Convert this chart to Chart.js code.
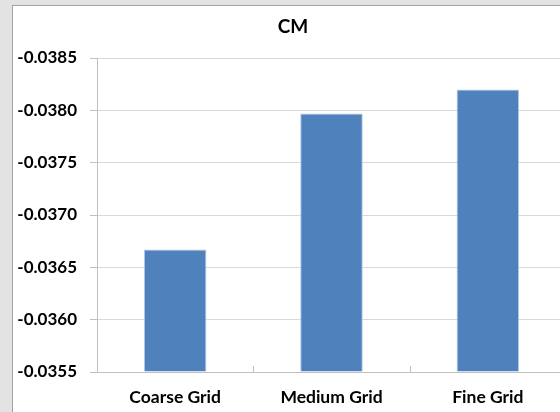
<!DOCTYPE html>
<html>
<head>
<meta charset="utf-8">
<script src="https://cdn.jsdelivr.net/npm/chart.js@4"></script>
<style>
  html, body { margin: 0; padding: 0; width: 560px; height: 412px; overflow: hidden; background: #e3e3e3; }
  #panel { position: absolute; left: 12px; top: 5px; width: 620px; height: 440px; background: #ffffff; border-left: 1px solid #a3a3a3; border-top: 1px solid #a3a3a3; }
  #wrap { position: absolute; left: 0; top: 0; width: 586px; height: 412px; }
</style>
</head>
<body>
<div id="panel"></div>
<div id="wrap"><canvas id="chart" width="586" height="412"></canvas></div>
<script>
const categories = ['Coarse Grid', 'Medium Grid', 'Fine Grid'];
const cmValues = [-0.03667, -0.03797, -0.03820];
const yTicks = [-0.0385, -0.0380, -0.0375, -0.0370, -0.0365, -0.0360, -0.0355];

const FONT = 'Lato, "Open Sans", sans-serif';

// Short inward tick marks on the category axis, between categories
const innerTicks = {
  id: 'innerTicks',
  afterDatasetsDraw(chart) {
    const x = chart.scales.x;
    const area = chart.chartArea;
    const n = categories.length;
    const ctx = chart.ctx;
    ctx.save();
    ctx.strokeStyle = '#bfbfbf';
    ctx.lineWidth = 1;
    for (let i = 1; i < n; i++) {
      const px = Math.round(x.left + i * (x.width / n)) + 0.5;
      ctx.beginPath();
      ctx.moveTo(px, area.bottom - 6);
      ctx.lineTo(px, area.bottom);
      ctx.stroke();
    }
    ctx.restore();
  }
};

// Centre the title across the whole chart panel rather than the padded box
const titleSpan = {
  id: 'titleSpan',
  afterLayout(chart) {
    if (chart.titleBlock) {
      chart.titleBlock.left = 0;
      chart.titleBlock.right = chart.width;
      chart.titleBlock.width = chart.width;
    }
  }
};

new Chart(document.getElementById('chart'), {
  type: 'bar',
  data: {
    labels: categories,
    datasets: [{
      label: 'CM',
      data: cmValues,
      base: yTicks[yTicks.length - 1],
      backgroundColor: '#4f81bd',
      borderColor: '#b3c8e3',
      borderWidth: 1,
      barPercentage: 0.4,
      categoryPercentage: 1.0
    }]
  },
  options: {
    responsive: false,
    animation: false,
    layout: { padding: { left: 0, right: 20, top: 0, bottom: 0 } },
    plugins: {
      legend: { display: false },
      tooltip: { enabled: false },
      title: {
        display: true,
        text: 'CM',
        color: '#000000',
        font: { family: FONT, size: 19, weight: 'bold', lineHeight: 1.2 },
        padding: { top: 15.6, bottom: 19.6 }
      }
    },
    scales: {
      x: {
        grid: { display: true, drawOnChartArea: false, drawTicks: false, color: '#bfbfbf' },
        border: { display: true, color: '#bfbfbf' },
        ticks: {
          color: '#000000',
          font: { family: FONT, size: 17.5, weight: 'bold', lineHeight: 1.2 },
          padding: 14.5,
          maxRotation: 0
        },
        afterFit(scale) { scale.height = 40; }
      },
      y: {
        reverse: true,
        min: yTicks[0],
        max: yTicks[yTicks.length - 1],
        afterBuildTicks(scale) { scale.ticks = yTicks.map(v => ({ value: v })); },
        grid: { color: '#d9d9d9', tickLength: 7, tickColor: '#bfbfbf' },
        border: { display: true, color: '#bfbfbf' },
        ticks: {
          color: '#000000',
          font: { family: FONT, size: 17, weight: 'bold' },
          padding: 13,
          callback: v => Number(v).toFixed(4)
        },
        afterFit(scale) { scale.width = 97; }
      }
    }
  },
  plugins: [innerTicks, titleSpan]
});
</script>
</body>
</html>
